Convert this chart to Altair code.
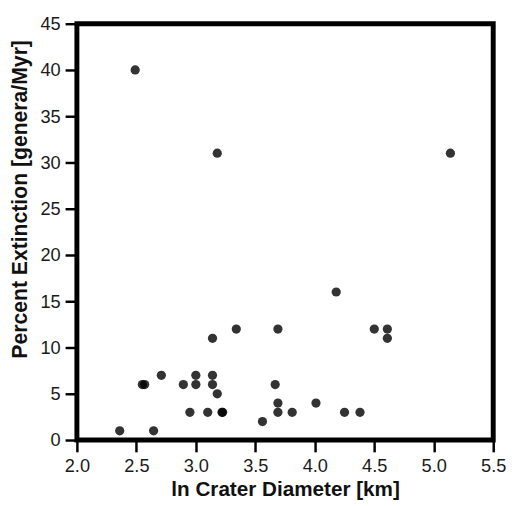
import altair as alt
import pandas as pd

diameter = [2.36, 2.645, 2.55, 2.57, 2.71, 2.895, 2.95, 3.0, 3.0, 3.10, 3.14, 3.14, 3.14,
            3.18, 3.22, 3.225, 3.34, 3.56, 3.667, 3.69, 3.69, 3.69, 3.81, 4.01, 4.18,
            4.25, 4.38, 4.50, 4.61, 4.61, 2.49, 3.18, 5.14]
extinction = [1, 1, 6, 6, 7, 6, 3, 7, 6, 3, 7, 6, 11,
              5, 3, 3, 12, 2, 6, 4, 3, 12, 3, 4, 16,
              3, 3, 12, 12, 11, 40, 31, 31]
x_ticks = [2.0, 2.5, 3.0, 3.5, 4.0, 4.5, 5.0, 5.5]
y_ticks = [0, 5, 10, 15, 20, 25, 30, 35, 40, 45]

df = pd.DataFrame({"d": diameter, "e": extinction})

FONT = "Liberation Sans"

chart = alt.Chart(df).mark_circle(size=88, color="#000000", opacity=0.8).encode(
    x=alt.X("d:Q", scale=alt.Scale(domain=[2.0, 5.5], nice=False, zero=False),
            axis=alt.Axis(title="ln Crater Diameter [km]", values=x_ticks,
                          format=".1f", grid=False, domain=False, tickSize=12, tickWidth=2.5,
                          tickColor="#000000", labelPadding=5, labelFontSize=18.5,
                          labelColor="#1a1a1a", labelFont=FONT, titleFont=FONT,
                          titleFontSize=21, titleFontWeight="bold", titleColor="#111111",
                          titlePadding=4, labelFlush=False)),
    y=alt.Y("e:Q", scale=alt.Scale(domain=[0, 45], nice=False),
            axis=alt.Axis(title="Percent Extinction [genera/Myr]", values=y_ticks,
                          grid=False, domain=False, tickSize=12, tickWidth=2.5,
                          tickColor="#000000", labelPadding=5, labelFontSize=18.5,
                          labelColor="#1a1a1a", labelFont=FONT, titleFont=FONT,
                          titleFontSize=21.5, titleFontWeight="bold", titleColor="#111111",
                          titleX=-46, titleY=178, labelFlush=False)),
).properties(
    width=423, height=423,
    autosize=alt.AutoSizeParams(type="none"),
    padding={"left": 70, "top": 12, "right": 14, "bottom": 59},
).configure_view(stroke="#000000", strokeWidth=5)

chart.save("out.html", embed_options={"renderer": "svg", "actions": False})
